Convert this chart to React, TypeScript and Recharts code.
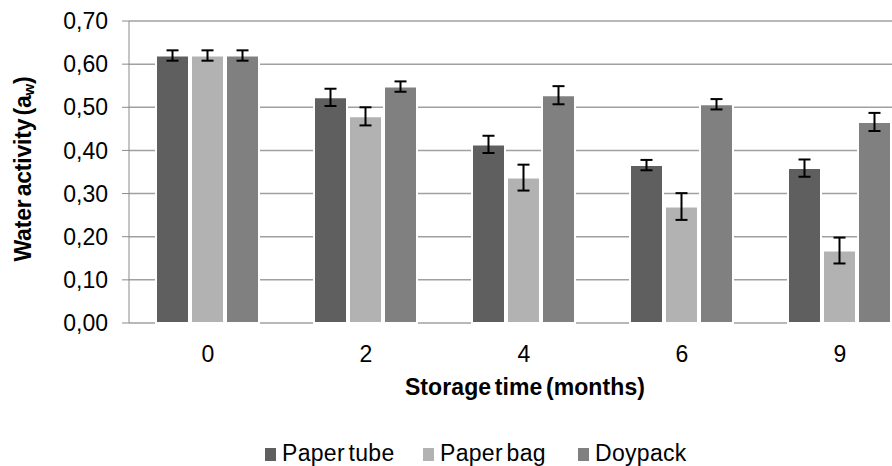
import React from "react";
import { Bar, BarChart, CartesianGrid, ErrorBar, Legend, XAxis, YAxis } from "recharts";

const months = ["0", "2", "4", "6", "9"];
const paperTube = [0.62, 0.523, 0.414, 0.366, 0.359];
const paperTubeErr = [0.012, 0.02, 0.02, 0.012, 0.02];
const paperBag = [0.62, 0.479, 0.337, 0.27, 0.168];
const paperBagErr = [0.012, 0.021, 0.03, 0.031, 0.03];
const doypack = [0.62, 0.548, 0.528, 0.507, 0.466];
const doypackErr = [0.012, 0.012, 0.021, 0.012, 0.021];
const yTicks = [0, 0.1, 0.2, 0.3, 0.4, 0.5, 0.6, 0.7];

const data = months.map((m, i) => ({
  month: m,
  tube: paperTube[i],
  tubeErr: paperTubeErr[i],
  bag: paperBag[i],
  bagErr: paperBagErr[i],
  doy: doypack[i],
  doyErr: doypackErr[i],
}));

const FONT = "'Liberation Sans', Arial, sans-serif";
const series = [
  { name: "Paper tube", color: "#5f5f5f" },
  { name: "Paper bag", color: "#b2b2b2" },
  { name: "Doypack", color: "#808080" },
];

// axis titles sit at fixed spots, like the original Excel export
const YLabel = () => (
  <text
    x={23}
    y={169}
    transform="rotate(-90 23 169)"
    textAnchor="middle"
    dominantBaseline="central"
    fontFamily={FONT}
    fontWeight="bold"
    fontSize={23}
    letterSpacing={-0.2}
    wordSpacing={-3}
    fill="#000"
  >
    Water activity (a<tspan dy={5} fontSize={15}>w</tspan>
    <tspan dy={-5}>)</tspan>
  </text>
);

const XLabel = () => (
  <text
    x={525}
    y={395}
    textAnchor="middle"
    fontFamily={FONT}
    fontWeight="bold"
    fontSize={23}
    letterSpacing={0.1}
    wordSpacing={-3}
    fill="#000"
  >
    Storage time (months)
  </text>
);

const LegendBox = () => (
  <div style={{ position: "relative", height: 24, fontFamily: FONT, fontSize: 23, lineHeight: "24px" }}>
    {series.map((s, i) => (
      <div
        key={s.name}
        style={{
          position: "absolute",
          left: [265, 423, 578][i],
          top: 0,
          display: "flex",
          alignItems: "flex-start",
          whiteSpace: "nowrap",
          letterSpacing: 0.3,
          wordSpacing: -3,
        }}
      >
        <span
          style={{ display: "inline-block", width: 11, height: 13, marginTop: 7, background: s.color, marginRight: 6 }}
        />
        {s.name}
      </div>
    ))}
  </div>
);

export default function App() {
  return (
    <div style={{ position: "absolute", top: 0, left: 0, width: 892, height: 466, overflow: "hidden", background: "#fff" }}>
      <BarChart
        width={940}
        height={466}
        data={data}
        margin={{ top: 21, right: 21, bottom: 0, left: 0 }}
        barCategoryGap={27}
        barGap={2}
      >
        <CartesianGrid vertical={false} stroke="#a0a0a0" strokeWidth={1.5} />
        <XAxis
          xAxisId="t"
          type="number"
          domain={[0, 5]}
          ticks={[0, 1, 2, 3, 4, 5]}
          height={0}
          tick={false}
          tickSize={7}
          stroke="#8a8a8a"
          allowDataOverflow
        />
        <XAxis
          dataKey="month"
          height={143}
          axisLine={false}
          tickLine={false}
          tickSize={7}
          tickMargin={16}
          tick={{ fontFamily: FONT, fontSize: 23, fill: "#000" }}
          label={<XLabel />}
        />
        <YAxis
          width={129}
          domain={[0, 0.7]}
          ticks={yTicks}
          interval={0}
          tickSize={7}
          tickMargin={14}
          stroke="#8a8a8a"
          tick={{ fontFamily: FONT, fontSize: 23, fill: "#000" }}
          tickFormatter={(v: number) => v.toFixed(2).replace(".", ",")}
          label={<YLabel />}
        />
        <Bar dataKey="tube" name="Paper tube" fill={series[0].color} stroke="#fff" strokeWidth={2} isAnimationActive={false}>
          <ErrorBar dataKey="tubeErr" width={6} strokeWidth={2} stroke="#000" />
        </Bar>
        <Bar dataKey="bag" name="Paper bag" fill={series[1].color} stroke="#fff" strokeWidth={2} isAnimationActive={false}>
          <ErrorBar dataKey="bagErr" width={6} strokeWidth={2} stroke="#000" />
        </Bar>
        <Bar dataKey="doy" name="Doypack" fill={series[2].color} stroke="#fff" strokeWidth={2} isAnimationActive={false}>
          <ErrorBar dataKey="doyErr" width={6} strokeWidth={2} stroke="#000" />
        </Bar>
        <Legend
          layout="horizontal"
          verticalAlign="middle"
          align="center"
          content={<LegendBox />}
          wrapperStyle={{ top: 441, left: 0, width: 892 }}
        />
      </BarChart>
    </div>
  );
}
